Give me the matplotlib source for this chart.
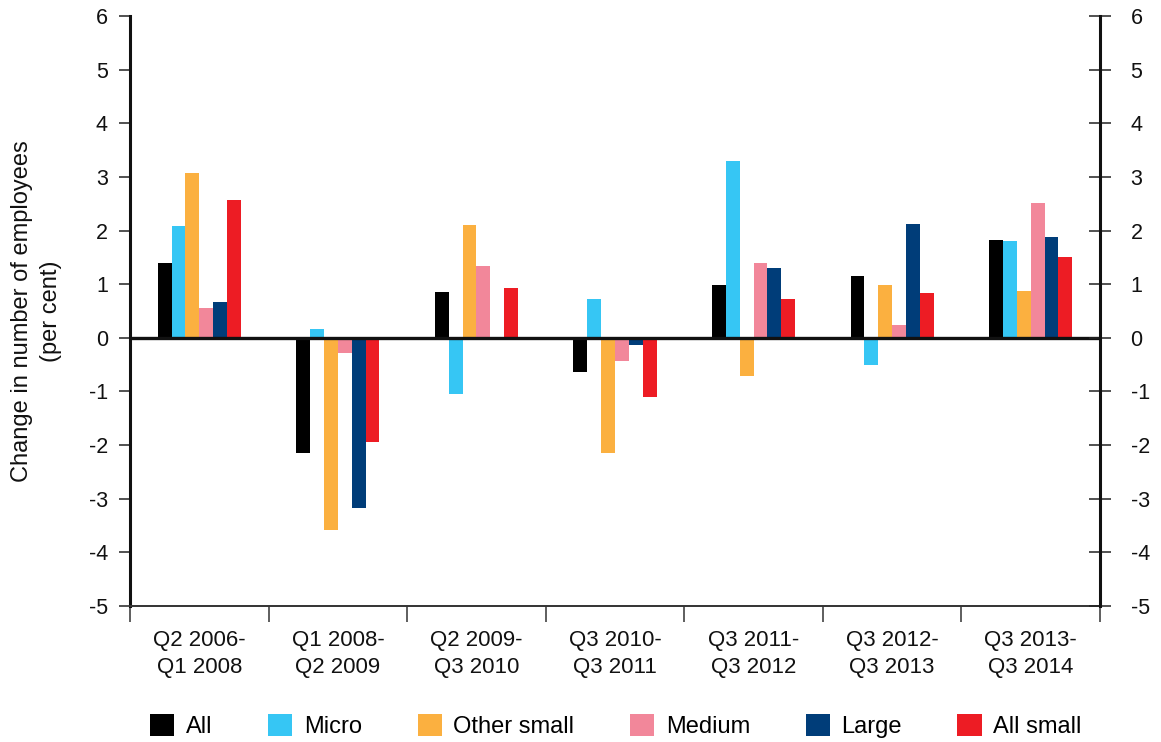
import matplotlib
matplotlib.use("Agg")
import matplotlib.pyplot as plt
from matplotlib.patches import Patch
import numpy as np

plt.rcParams['font.family'] = ['Liberation Sans', 'DejaVu Sans']
plt.rcParams['axes.unicode_minus'] = False

periods = ["Q2 2006-\nQ1 2008", "Q1 2008-\nQ2 2009", "Q2 2009-\nQ3 2010",
           "Q3 2010-\nQ3 2011", "Q3 2011-\nQ3 2012", "Q3 2012-\nQ3 2013",
           "Q3 2013-\nQ3 2014"]

series_names = ["All", "Micro", "Other small", "Medium", "Large", "All small"]

all_firms = [1.39, -2.14, 0.86, -0.63, 0.98, 1.16, 1.83]
micro = [2.08, 0.17, -1.04, 0.73, 3.29, -0.50, 1.80]
other_small = [3.07, -3.59, 2.10, -2.15, -0.72, 0.98, 0.88]
medium = [0.55, -0.29, 1.33, -0.44, 1.39, 0.23, 2.52]
large = [0.66, -3.18, 0.0, -0.14, 1.31, 2.13, 1.87]
all_small = [2.56, -1.95, 0.92, -1.11, 0.73, 0.83, 1.50]

colors = ["#000000", "#36C6F4", "#FBB040", "#F2879A", "#003D79", "#ED1C24"]

series = [all_firms, micro, other_small, medium, large, all_small]

fig = plt.figure(figsize=(11.61, 7.42), dpi=100)
ax = fig.add_axes([0.112, 0.1833, 0.8355, 0.7952])

x = np.arange(len(periods))
width = 0.1
for i, (vals, col) in enumerate(zip(series, colors)):
    ax.bar(x + (i - 2.5) * width, vals, width=width, color=col, linewidth=0, zorder=2)

ax.axhline(0, color="#111111", lw=2.4, zorder=3)

ax.set_xlim(-0.5, len(periods) - 0.5)
ax.set_ylim(-5, 6)
ax.set_yticks(range(-5, 7))
ax.tick_params(axis='y', which='major', direction='out', length=8, width=1.1,
               labelsize=15.5, pad=8, colors="#222222", labelcolor="#111111")

# Right-hand axis repeating the scale, ticks crossing the spine
ax2 = ax.twinx()
ax2.set_ylim(ax.get_ylim())
ax2.set_yticks(range(-5, 7))
ax2.tick_params(axis='y', direction='inout', length=16, width=1.1,
                labelsize=15.5, pad=14, colors="#222222", labelcolor="#111111")
for s in ax2.spines.values():
    s.set_visible(False)
ax2.spines['right'].set_visible(True)
ax2.spines['right'].set_linewidth(2.2)
ax2.spines['right'].set_color("#111111")

for side in ['top', 'right']:
    ax.spines[side].set_visible(False)
ax.spines['left'].set_linewidth(2.2)
ax.spines['left'].set_color("#111111")
ax.spines['bottom'].set_linewidth(1.4)
ax.spines['bottom'].set_color("#333333")

# Category labels centred, separator ticks at the boundaries
ax.set_xticks(x)
ax.set_xticklabels(periods, fontsize=16, linespacing=1.42, color="#111111")
ax.tick_params(axis='x', which='major', length=0, pad=17)
ax.set_xticks(np.arange(-0.5, len(periods)), minor=True)
ax.tick_params(axis='x', which='minor', length=11.5, width=1.1, color="#333333")

ax.set_ylabel("Change in number of employees\n(per cent)", fontsize=17,
              linespacing=1.4, color="#111111")
ax.yaxis.set_label_coords(-0.0701, 0.5)

handles = [Patch(facecolor=c, edgecolor='none', label=n) for c, n in zip(colors, series_names)]
fig.legend(handles=handles, loc='center', bbox_to_anchor=(0.5306, 0.0216), ncol=6,
           frameon=False, fontsize=17, handlelength=1.02, handleheight=1.02,
           handletextpad=0.5, columnspacing=2.35, borderpad=0, borderaxespad=0)

fig.savefig("out.png", dpi=100, facecolor="white")
